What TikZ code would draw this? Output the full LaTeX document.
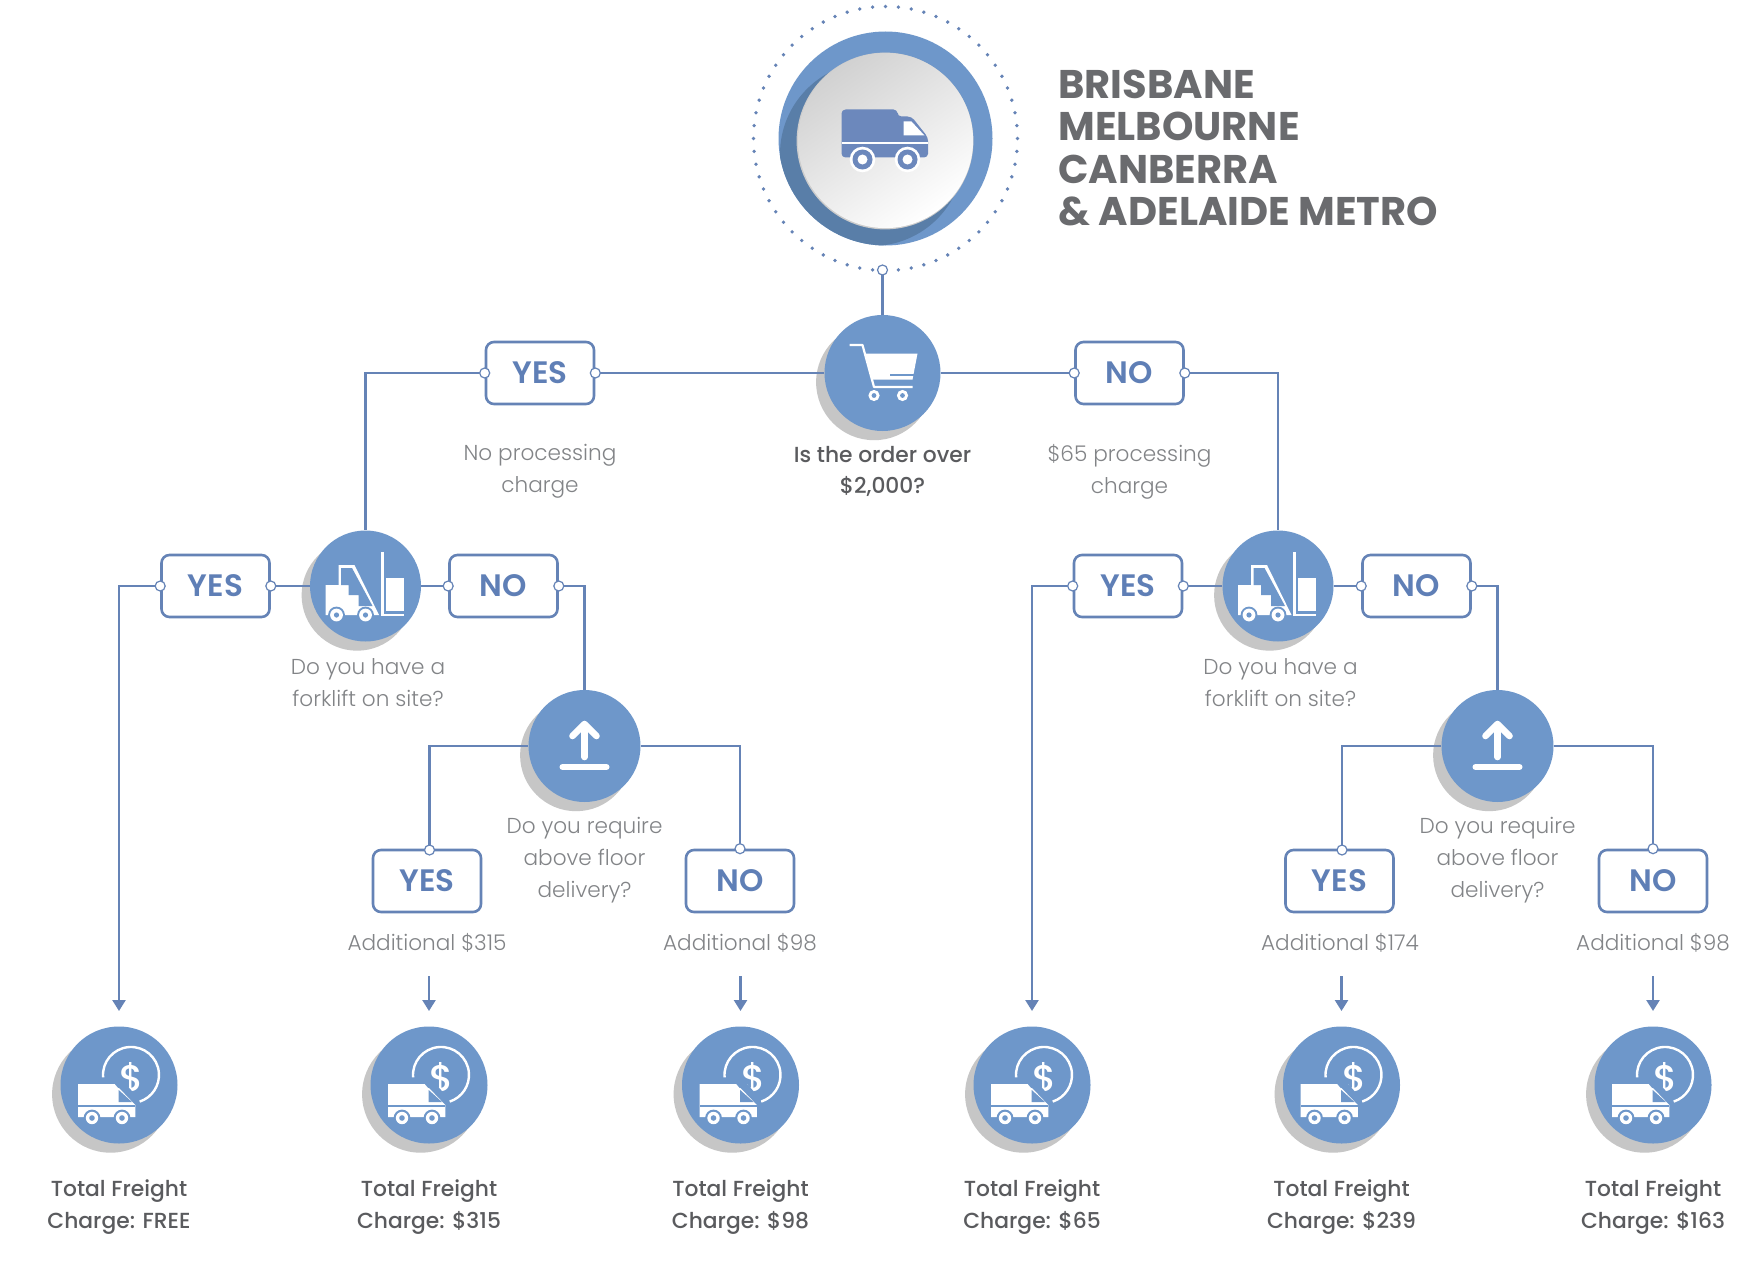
\documentclass[tikz,border=0pt]{standalone}
\usepackage{fontspec}
\setmainfont{Poppins}
\newfontfamily\lightf{Poppins Light}
\newfontfamily\medf{Poppins Medium}
\newfontfamily\semif{Poppins SemiBold}
\newfontfamily\boldf{Poppins Bold}
\usetikzlibrary{shadows,arrows.meta}
\definecolor{bl}{HTML}{6E97CA}
\definecolor{ln}{HTML}{6583B6}
\definecolor{lab}{HTML}{5F7FB6}
\definecolor{shd}{HTML}{C6C6C6}
\definecolor{van}{HTML}{6C88BC}
\definecolor{crs}{HTML}{597EA8}
\definecolor{dk}{HTML}{5A5B5E}
\definecolor{lg}{HTML}{828487}
\definecolor{hd}{HTML}{6A6B6E}
\tikzset{
  hub/.style={circle,fill=bl,inner sep=0pt,minimum size=#1,general shadow={shadow xshift=-4.2pt,shadow yshift=-4.6pt,fill=shd}},
  choice/.style={draw=ln,line width=1.3pt,rounded corners=4pt,fill=white,minimum width=54pt,minimum height=31pt,inner sep=0pt,text=lab,font=\semif\fontsize{15.5}{18}\selectfont},
  link/.style={draw=ln,line width=1.2pt},
  arrowlink/.style={link,-{Triangle[length=5.5pt,width=6.5pt]}},
  port/.style={draw=ln,fill=white,line width=.6pt},
  soft/.style={align=center,text=lg,inner sep=0pt,font=\lightf\fontsize{10.8}{15.9}\selectfont},
  strong/.style={align=center,text=dk,inner sep=0pt,font=\medf\fontsize{10.9}{15.6}\selectfont},
  coinvan/.pic={
    \draw[white,line width=1.2pt] (-15.9,-7.6) arc[start angle=185,end angle=-72,radius=14pt];
    \node[text=white,inner sep=0pt,font=\medf\fontsize{18.5}{18.5}\selectfont] (-d) at (13,-6) {\$};
    \fill[bl] (-3,-4) -- (4,-4) -- (20,14) -- (20,24) -- (-3,24) -- cycle;
    \fill[white] (-41,-1) -- (-4.4,-1) -- (-1,3) -- (0,3) -- (16.3,20) -- (16.3,32) -- (-41,32) -- cycle;
    \fill[bl] (-.3,5) -- (13,17) -- (-.3,17) -- cycle;
    \fill[bl] (-41,20) rectangle (16.3,21.6);
    \foreach \w in {-27,3}{
      \fill[bl] (\w,33) circle (4.2pt);
      \fill[white] (\w,33) circle (3.1pt);
      \fill[bl] (\w,33) circle (1.4pt);
    }
  },
  cartpic/.pic={
    \draw[white,line width=1.1pt,line join=round] (-33,-28) -- (-20,-28) -- (-8.5,14) -- (30,14);
    \fill[white] (-18,-19.5) -- (35,-19.5) -- (30,6.5) -- (-10,6.5) -- cycle;
    \fill[bl] (7,.5) rectangle (33,3);
    \foreach \w in {-8.5,20}{
      \fill[white] (\w,22.5) circle (2.8pt);
      \fill[bl] (\w,22.5) circle (1.2pt);
    }
  },
  forkpic/.pic={
    \fill[white] (-40,-1) -- (-27,-1) -- (-27,-21) -- (-11,-21) -- (13.5,29) -- (-40,29) -- cycle;
    \fill[bl] (-24.5,-18) -- (-13.5,-18) -- (7,20) -- (-7,20) -- (-7,9) -- (-17,9) -- (-17,-1) -- (-24.5,-1) -- cycle;
    \fill[white] (15,-34) rectangle (18,29);
    \fill[white] (15,27.5) rectangle (38,30);
    \fill[white] (20,-8) rectangle (38,25);
    \foreach \w in {-29,0}{
      \fill[bl] (\w,29) circle (4.2pt);
      \fill[white] (\w,29) circle (3.2pt);
      \fill[bl] (\w,29) circle (1.3pt);
    }
  },
  uppic/.pic={
    \draw[white,line width=3.3pt,line cap=round,line join=round] (-12,-10) -- (0,-22) -- (12,-10);
    \draw[white,line width=3.3pt,line cap=round] (0,-20) -- (0,11);
    \draw[white,line width=3pt,line cap=round] (-22,21) -- (22,21);
  },
  bigvan/.pic={
    \fill[van,rounded corners=2pt] (-44,-29) -- (12,-29) -- (12,-22) -- (26,-22) -- (42.6,-1) -- (42.6,19) -- (-44,19) -- cycle;
    \fill[white] (18,-17) -- (26,-17) -- (39,-3) -- (18,-3) -- cycle;
    \fill[white] (-44,4) rectangle (42.6,6);
    \foreach \w in {-23,22}{
      \fill[white] (\w,21) circle (6.4pt);
      \fill[van] (\w,21) circle (5pt);
      \fill[white] (\w,21) circle (2.5pt);
    }
  }
}
\newcommand{\portsWE}[1]{\draw[port] (#1.west) circle (2.5pt); \draw[port] (#1.east) circle (2.5pt);}
\begin{document}
\begin{tikzpicture}[x=0.5pt,y=-0.5pt]
\useasboundingbox (0,0) rectangle (1756,1284);
\fill[white] (0,0) rectangle (1756,1284);

% emblem
\node[circle,fill=bl,inner sep=0pt,minimum size=107pt] (emblem) at (885.5,138.5) {};
\begin{scope}
  \clip (emblem.center) circle (53.5pt);
  \fill[crs] (872,154) circle (46pt);
\end{scope}
\fill[black!20] (885,141) circle (44.2pt);
\shade[top color=black!18,bottom color=white,shading angle=35] (885.5,140.5) circle (43.8pt);
\foreach \a in {0,5.625,...,355}{
  \fill[ln] (emblem.center) ++(\a:66pt) circle (.95pt);
}
\pic at (emblem.center) {bigvan};
\node[font=\boldf\fontsize{20}{21.3}\selectfont,text=hd,align=left,anchor=west,inner sep=0pt] (title) at (1058,148) {BRISBANE\\MELBOURNE\\CANBERRA\\\&~ADELAIDE METRO};

% hubs
\node[hub=58pt] (cart) at (882.5,373) {};
\pic at (cart.center) {cartpic};
\node[hub=55.5pt] (forkL) at (365.5,586) {};
\pic at (forkL.center) {forkpic};
\node[hub=55.5pt] (forkR) at (1278,586) {};
\pic at (forkR.center) {forkpic};
\node[hub=56pt] (upL) at (584.5,746) {};
\pic at (upL.center) {uppic};
\node[hub=56pt] (upR) at (1497.5,746) {};
\pic at (upR.center) {uppic};

% outcomes
\foreach \n/\x in {a/119,b/429,c/740.5,d/1032,e/1341.5,f/1653}{
  \node[hub=58.5pt] (tot\n) at (\x,1085) {};
  \pic (v\n) at (tot\n.center) {coinvan};
}

% choices
\node[choice] (yes1) at (540,373) {YES};
\node[choice] (no1) at (1129.5,373) {NO};
\node[choice] (yes2) at (215.5,586) {YES};
\node[choice] (no2) at (503.5,586) {NO};
\node[choice] (yes3) at (1128,586) {YES};
\node[choice] (no3) at (1416.5,586) {NO};
\node[choice] (yes4) at (427,881) {YES};
\node[choice] (no4) at (740,881) {NO};
\node[choice] (yes5) at (1339.5,881) {YES};
\node[choice] (no5) at (1653,881) {NO};

% connectors
\coordinate (start) at (882.5,270);
\coordinate (ta) at (119,1011);
\coordinate (td) at (1032,1011);
\coordinate (py4) at (429.5,850);
\coordinate (py5) at (1342,850);
\foreach \n/\x in {b/429,c/740.5,e/1341.5,f/1653}{
  \coordinate (s\n) at (\x,976);
  \coordinate (t\n) at (\x,1011);
  \draw[arrowlink] (s\n) -- (t\n);
}
\draw[link] (start) -- (cart.north);
\draw[link] (cart.west) -- (yes1.east);
\draw[link] (cart.east) -- (no1.west);
\draw[link] (yes1.west) -| (forkL.north);
\draw[link] (no1.east) -| (forkR.north);
\draw[link] (forkL.west) -- (yes2.east);
\draw[link] (forkL.east) -- (no2.west);
\draw[link] (forkR.west) -- (yes3.east);
\draw[link] (forkR.east) -- (no3.west);
\draw[arrowlink] (yes2.west) -| (ta);
\draw[arrowlink] (yes3.west) -| (td);
\draw[link] (no2.east) -| (upL.north);
\draw[link] (no3.east) -| (upR.north);
\draw[link] (upL.west) -| (py4);
\draw[link] (upL.east) -| (no4.north);
\draw[link] (upR.west) -| (py5);
\draw[link] (upR.east) -| (no5.north);

% ports
\draw[port] (start) circle (2.5pt);
\portsWE{yes1}\portsWE{no1}\portsWE{yes2}\portsWE{no2}\portsWE{yes3}\portsWE{no3}
\draw[port] (py4) circle (2.5pt);
\draw[port] (py5) circle (2.5pt);
\foreach \n in {no4,no5}{\draw[port] (\n.north) circle (2.5pt);}

% texts
\node[soft] (tx1) at (540,471.5) {No processing\\charge};
\node[soft] (tx2) at (1129.5,471.5) {\$65 processing\\charge};
\node[strong] (tx3) at (882.5,471.5) {Is the order over\\\$2,000?};
\node[soft] (tx4) at (368,682.5) {Do you have a\\forklift on site?};
\node[soft] (tx5) at (1280.5,682.5) {Do you have a\\forklift on site?};
\node[soft] (tx6) at (584.5,860) {Do you require\\above floor\\delivery?};
\node[soft] (tx7) at (1497.5,860) {Do you require\\above floor\\delivery?};
\node[soft] (tx8) at (427,943) {Additional \$315};
\node[soft] (tx9) at (740,943) {Additional \$98};
\node[soft] (tx10) at (1340,943) {Additional \$174};
\node[soft] (tx11) at (1653,943) {Additional \$98};
\node[strong] (c1) at (119,1207) {Total Freight\\Charge: FREE};
\node[strong] (c2) at (429,1207) {Total Freight\\Charge: \$315};
\node[strong] (c3) at (740.5,1207) {Total Freight\\Charge: \$98};
\node[strong] (c4) at (1032,1207) {Total Freight\\Charge: \$65};
\node[strong] (c5) at (1341.5,1207) {Total Freight\\Charge: \$239};
\node[strong] (c6) at (1653,1207) {Total Freight\\Charge: \$163};
\end{tikzpicture}
\end{document}
